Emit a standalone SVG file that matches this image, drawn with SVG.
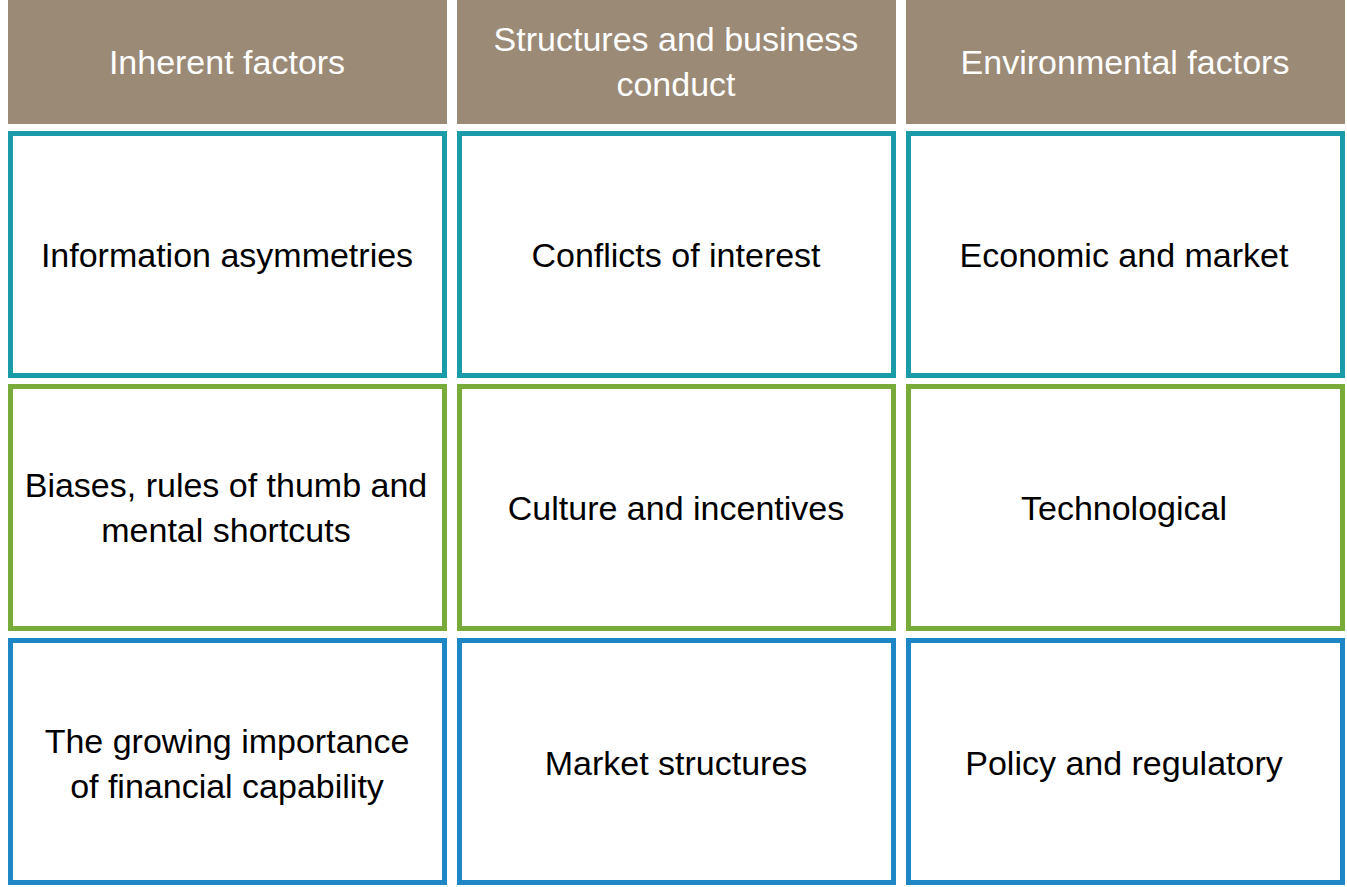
<svg xmlns="http://www.w3.org/2000/svg" width="1347" height="887" viewBox="0 0 1347 887">
<style>
.h{fill:#9a8a76}
.b{fill:#fff;stroke-width:5}
.r1{stroke:#1a9ba8}.r2{stroke:#78ab3a}.r3{stroke:#1d86c4}
text{font-family:"Liberation Sans",Arial,sans-serif;font-size:34px;text-anchor:middle}
.ht{fill:#fff}
.t{fill:#000}
</style>
<rect width="1347" height="887" fill="#fff"/>
<g id="h1"><rect class="h" x="8" y="0" width="439" height="124"/><text class="ht" x="227" y="74">Inherent factors</text></g>
<g id="h2"><rect class="h" x="457" y="0" width="439" height="124"/><text class="ht" x="676" y="51">Structures and business</text><text class="ht" x="676" y="96">conduct</text></g>
<g id="h3"><rect class="h" x="906" y="0" width="439" height="124"/><text class="ht" x="1125" y="74">Environmental factors</text></g>
<g id="n11"><rect class="b r1" x="10.5" y="133.5" width="434" height="242"/><text class="t" x="227" y="267">Information asymmetries</text></g>
<g id="n12"><rect class="b r1" x="459.5" y="133.5" width="434" height="242"/><text class="t" x="676" y="267">Conflicts of interest</text></g>
<g id="n13"><rect class="b r1" x="908.5" y="133.5" width="434" height="242"/><text class="t" x="1124" y="267">Economic and market</text></g>
<g id="n21"><rect class="b r2" x="10.5" y="386.5" width="434" height="242"/><text class="t" x="226" y="497">Biases, rules of thumb and</text><text class="t" x="226" y="542">mental shortcuts</text></g>
<g id="n22"><rect class="b r2" x="459.5" y="386.5" width="434" height="242"/><text class="t" x="676" y="520">Culture and incentives</text></g>
<g id="n23"><rect class="b r2" x="908.5" y="386.5" width="434" height="242"/><text class="t" x="1124" y="520">Technological</text></g>
<g id="n31"><rect class="b r3" x="10.5" y="640.5" width="434" height="242"/><text class="t" x="227" y="753">The growing importance</text><text class="t" x="227" y="798">of financial capability</text></g>
<g id="n32"><rect class="b r3" x="459.5" y="640.5" width="434" height="242"/><text class="t" x="676" y="775">Market structures</text></g>
<g id="n33"><rect class="b r3" x="908.5" y="640.5" width="434" height="242"/><text class="t" x="1124" y="775">Policy and regulatory</text></g>
<g id="connectors"></g>
</svg>
